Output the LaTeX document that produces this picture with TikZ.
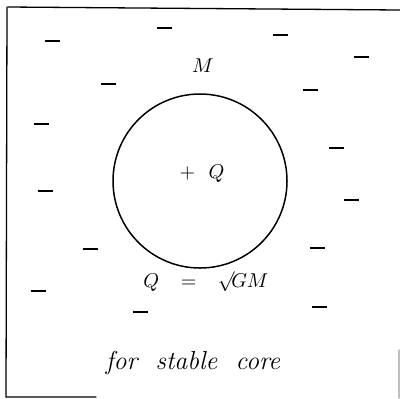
\documentclass[tikz,border=0pt]{standalone}
\usepackage{fontspec}
\usetikzlibrary{positioning}

\begin{document}
\begin{tikzpicture}[x=0.5pt, y=-0.5pt,
          frameline/.style={line width=0.65pt, line cap=round},
          charge/.style={line width=0.9pt},
          core/.style={draw, circle, line width=0.75pt, minimum size=87pt, inner sep=0pt},
          lbl/.style={font=\fontsize{10}{12}\selectfont, inner sep=0pt}]
        \useasboundingbox (0,0) rectangle (400,398);
        % partial frame of the scan
        \draw[frameline] (8,7) -- (400,10);
        \draw[frameline] (7,7) -- (6,397) -- (96,397);
        \draw[frameline, black!25] (399,350) -- (399,398);
        % core and labels
        \node[core] (c) at (200,181) {};
        \node[lbl] (q) at (202,174) {$+\ \ Q$};
        \node[lbl] (m) at (203,66) {$M$};
        \node[lbl] (eq) at (206,282) {$Q \hspace{8pt} = \hspace{8pt} \surd\!GM$};
        \node[font=\fontsize{13}{15}\selectfont\addfontfeature{LetterSpace=10}, inner sep=0pt] (cap) at (193,363) {\itshape for\ \ stable\ \ core};
        % negative charges around the core
        \foreach \px/\py in {52/41, 164/28, 280/35, 361/57, 108/84, 310/90, 41/124, 336/148,
                             45/191, 351/200, 90/249, 317/248, 38/291, 140/312, 319/307} {
          \draw[charge] (\px-7.5,\py) -- (\px+7.5,\py);
        }
      \end{tikzpicture}
\end{document}
